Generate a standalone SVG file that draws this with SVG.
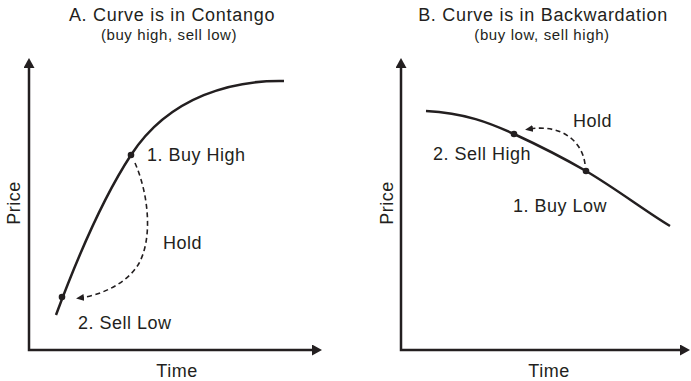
<svg xmlns="http://www.w3.org/2000/svg" width="691" height="381" viewBox="0 0 691 381">
<style>
text{font-family:"Liberation Sans",Arial,Helvetica,sans-serif;fill:#231f20}
.title{font-size:18px;letter-spacing:0.7px;text-anchor:middle}
.sub{font-size:15px;letter-spacing:0.6px;text-anchor:middle}
.lbl{font-size:18px;letter-spacing:0.5px}
.axl{font-size:18px;letter-spacing:0.5px;text-anchor:middle}
.axis{fill:none;stroke:#231f20;stroke-width:2.5;stroke-linejoin:miter}
.curve{fill:none;stroke:#231f20;stroke-width:2.5;stroke-linecap:butt}
.dash{fill:none;stroke:#231f20;stroke-width:1.6;stroke-dasharray:5 3.5}
.dot{fill:#231f20}
</style>
<defs>
<marker id="axArrow" markerUnits="userSpaceOnUse" markerWidth="12" markerHeight="12" refX="6" refY="5.5" orient="auto-start-reverse">
<path d="M0,0 L10,5.5 L0,11 z" fill="#231f20"/>
</marker>
<marker id="dArrow" markerUnits="userSpaceOnUse" markerWidth="10" markerHeight="10" refX="4" refY="3.5" orient="auto">
<path d="M0,0 L8,3.5 L0,7 z" fill="#231f20"/>
</marker>
</defs>

<g id="panelA-title">
<text class="title" x="172" y="21">A. Curve is in Contango</text>
<text class="sub" x="169" y="40">(buy high, sell low)</text>
</g>
<g id="panelB-title">
<text class="title" x="543" y="21">B. Curve is in Backwardation</text>
<text class="sub" x="542" y="40">(buy low, sell high)</text>
</g>

<g id="axesA">
<path class="axis" d="M29,62 L29,350 L318,350" marker-start="url(#axArrow)" marker-end="url(#axArrow)"/>
<text class="axl" x="177" y="377">Time</text>
<text class="axl" transform="translate(20,203) rotate(-90)">Price</text>
</g>
<g id="axesB">
<path class="axis" d="M401,62 L401,350 L686,350" marker-start="url(#axArrow)" marker-end="url(#axArrow)"/>
<text class="axl" x="549" y="377">Time</text>
<text class="axl" transform="translate(393,203) rotate(-90)">Price</text>
</g>

<g id="curveA">
<path class="curve" d="M56,315 Q95,210 131,155 C170,95 235,80 284,81"/>
</g>
<g id="curveB">
<path class="curve" d="M426,111 C465,113 490,123 514,134 C540,146 560,156 586,171 C618,190 645,211 670,226"/>
</g>

<g id="connectors">
<path class="dash" d="M135,163 C149,195 153,240 138,265 C125,285 100,295 80,298" marker-end="url(#dArrow)"/>
<path class="dash" d="M585,164 C582,140 560,124 529,129" marker-end="url(#dArrow)"/>
</g>

<g id="buyHighA">
<circle class="dot" cx="131" cy="155" r="3.3"/>
<text class="lbl" x="147" y="161">1. Buy High</text>
</g>
<g id="sellLowA">
<circle class="dot" cx="62" cy="297" r="3.3"/>
<text class="lbl" x="78" y="329">2. Sell Low</text>
</g>
<g id="holdA">
<text class="lbl" x="163" y="249">Hold</text>
</g>

<g id="buyLowB">
<circle class="dot" cx="586" cy="171" r="3.3"/>
<text class="lbl" x="513" y="212">1. Buy Low</text>
</g>
<g id="sellHighB">
<circle class="dot" cx="514" cy="134" r="3.3"/>
<text class="lbl" x="433" y="160">2. Sell High</text>
</g>
<g id="holdB">
<text class="lbl" x="573" y="127">Hold</text>
</g>
</svg>
